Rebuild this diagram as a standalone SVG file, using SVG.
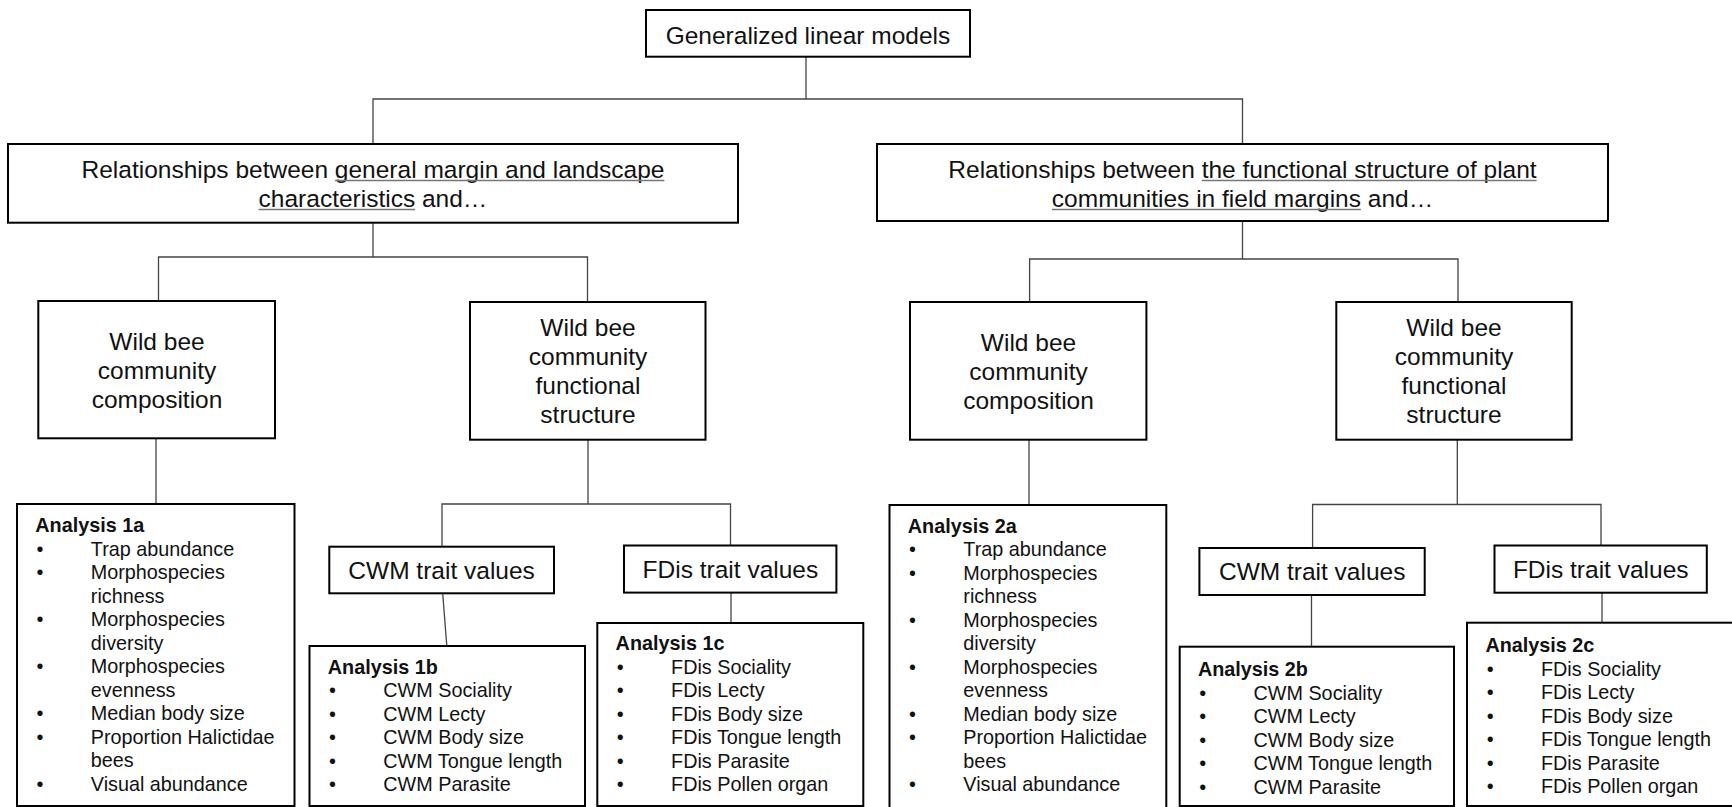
<svg xmlns="http://www.w3.org/2000/svg" width="1732" height="807" viewBox="0 0 1732 807">
<style>
text{font-family:"Liberation Sans",Arial,sans-serif;fill:#111}
.big{font-size:24.5px;text-anchor:middle}
.sm{font-size:19.8px}
.b{font-weight:bold}
.box{fill:#fff;stroke:#000;stroke-width:2}
.ul{stroke:#777;stroke-width:1.5}
#connectors line,#connectors polyline{stroke:#444;stroke-width:1.3;fill:none}
</style>
<rect width="1732" height="807" fill="#fff"/>
<g id="connectors">
<line x1="806" y1="57" x2="806" y2="99"/>
<polyline points="373,144 373,99 1242.5,99 1242.5,144"/>
<line x1="373" y1="223" x2="373" y2="257"/>
<polyline points="158.5,301 158.5,257 587.5,257 587.5,302"/>
<line x1="1242.5" y1="221" x2="1242.5" y2="259"/>
<polyline points="1029.6,302 1029.6,259 1458,259 1458,302"/>
<line x1="156" y1="438" x2="156" y2="504"/>
<line x1="588" y1="440" x2="588" y2="504"/>
<polyline points="442,546.7 442,504 730.5,504 730.5,545.5"/>
<line x1="442.7" y1="593.3" x2="446.8" y2="646"/>
<line x1="731" y1="592.6" x2="731" y2="623"/>
<line x1="1029" y1="440" x2="1029" y2="505"/>
<line x1="1457.3" y1="440" x2="1457.3" y2="504.5"/>
<polyline points="1312.6,548 1312.6,504.5 1601,504.5 1601,545.5"/>
<line x1="1311.5" y1="595" x2="1311.5" y2="646.7"/>
<line x1="1602" y1="592.7" x2="1602" y2="622.7"/>
</g>
<g id="n-glm">
<rect class="box" x="646" y="10" width="324" height="46.7"/>
<text class="big" x="808" y="44.3">Generalized linear models</text>
</g>
<g id="n-rel-left">
<rect class="box" x="8" y="144" width="730" height="78.7"/>
<text class="big" x="373" y="177.5">Relationships between general margin and landscape</text>
<text class="big" x="373" y="206.5">characteristics and…</text>
<line class="ul" x1="334.9" y1="180.5" x2="664.4" y2="180.5"/>
<line class="ul" x1="258.6" y1="209.5" x2="415.2" y2="209.5"/>
</g>
<g id="n-rel-right">
<rect class="box" x="877" y="144" width="731" height="77"/>
<text class="big" x="1242.5" y="177.5">Relationships between the functional structure of plant</text>
<text class="big" x="1242.5" y="206.5">communities in field margins and…</text>
<line class="ul" x1="1201.7" y1="180.5" x2="1536.6" y2="180.5"/>
<line class="ul" x1="1051.9" y1="209.5" x2="1360.9" y2="209.5"/>
</g>
<g id="n-comp1">
<rect class="box" x="38.3" y="301" width="236.7" height="137.3"/>
<text class="big" x="157" y="350">Wild bee</text>
<text class="big" x="157" y="379">community</text>
<text class="big" x="157" y="408">composition</text>
</g>
<g id="n-func1">
<rect class="box" x="470" y="302" width="235.5" height="137.7"/>
<text class="big" x="588" y="335.5">Wild bee</text>
<text class="big" x="588" y="364.5">community</text>
<text class="big" x="588" y="393.5">functional</text>
<text class="big" x="588" y="422.5">structure</text>
</g>
<g id="n-comp2">
<rect class="box" x="910" y="302" width="236.4" height="137.7"/>
<text class="big" x="1028.5" y="351">Wild bee</text>
<text class="big" x="1028.5" y="380">community</text>
<text class="big" x="1028.5" y="409">composition</text>
</g>
<g id="n-func2">
<rect class="box" x="1336.3" y="302" width="235.4" height="137.7"/>
<text class="big" x="1454" y="335.5">Wild bee</text>
<text class="big" x="1454" y="364.5">community</text>
<text class="big" x="1454" y="393.5">functional</text>
<text class="big" x="1454" y="422.5">structure</text>
</g>
<g id="n-cwm1">
<rect class="box" x="329.3" y="546.7" width="224.7" height="46.6"/>
<text class="big" x="441.6" y="579">CWM trait values</text>
</g>
<g id="n-fdis1">
<rect class="box" x="624" y="545.5" width="212.4" height="47.1"/>
<text class="big" x="730.4" y="578">FDis trait values</text>
</g>
<g id="n-cwm2">
<rect class="box" x="1199.4" y="548" width="225.3" height="47"/>
<text class="big" x="1312.2" y="580.3">CWM trait values</text>
</g>
<g id="n-fdis2">
<rect class="box" x="1494.5" y="545.5" width="212.3" height="47.2"/>
<text class="big" x="1600.7" y="578">FDis trait values</text>
</g>
<g id="n-a1a">
<rect class="box" x="17" y="504" width="277.5" height="302"/>
<text class="sm b" x="35.3" y="532">Analysis 1a</text>
<text class="sm">
<tspan x="36.5" y="555.5">•</tspan><tspan x="90.8" y="555.5">Trap abundance</tspan>
<tspan x="36.5" y="579">•</tspan><tspan x="90.8" y="579">Morphospecies</tspan>
<tspan x="90.8" y="602.5">richness</tspan>
<tspan x="36.5" y="626">•</tspan><tspan x="90.8" y="626">Morphospecies</tspan>
<tspan x="90.8" y="649.5">diversity</tspan>
<tspan x="36.5" y="673">•</tspan><tspan x="90.8" y="673">Morphospecies</tspan>
<tspan x="90.8" y="696.5">evenness</tspan>
<tspan x="36.5" y="720">•</tspan><tspan x="90.8" y="720">Median body size</tspan>
<tspan x="36.5" y="743.5">•</tspan><tspan x="90.8" y="743.5">Proportion Halictidae</tspan>
<tspan x="90.8" y="767">bees</tspan>
<tspan x="36.5" y="790.5">•</tspan><tspan x="90.8" y="790.5">Visual abundance</tspan>
</text>
</g>
<g id="n-a1b">
<rect class="box" x="309.5" y="646" width="275.5" height="160"/>
<text class="sm b" x="327.8" y="673.5">Analysis 1b</text>
<text class="sm">
<tspan x="329" y="697">•</tspan><tspan x="383.3" y="697">CWM Sociality</tspan>
<tspan x="329" y="720.5">•</tspan><tspan x="383.3" y="720.5">CWM Lecty</tspan>
<tspan x="329" y="744">•</tspan><tspan x="383.3" y="744">CWM Body size</tspan>
<tspan x="329" y="767.5">•</tspan><tspan x="383.3" y="767.5">CWM Tongue length</tspan>
<tspan x="329" y="791">•</tspan><tspan x="383.3" y="791">CWM Parasite</tspan>
</text>
</g>
<g id="n-a1c">
<rect class="box" x="597.3" y="623" width="266" height="183"/>
<text class="sm b" x="615.6" y="650">Analysis 1c</text>
<text class="sm">
<tspan x="616.8" y="673.5">•</tspan><tspan x="671.1" y="673.5">FDis Sociality</tspan>
<tspan x="616.8" y="697">•</tspan><tspan x="671.1" y="697">FDis Lecty</tspan>
<tspan x="616.8" y="720.5">•</tspan><tspan x="671.1" y="720.5">FDis Body size</tspan>
<tspan x="616.8" y="744">•</tspan><tspan x="671.1" y="744">FDis Tongue length</tspan>
<tspan x="616.8" y="767.5">•</tspan><tspan x="671.1" y="767.5">FDis Parasite</tspan>
<tspan x="616.8" y="791">•</tspan><tspan x="671.1" y="791">FDis Pollen organ</tspan>
</text>
</g>
<g id="n-a2a">
<rect class="box" x="889.5" y="505" width="276.8" height="306"/>
<text class="sm b" x="907.8" y="532.5">Analysis 2a</text>
<text class="sm">
<tspan x="909" y="556">•</tspan><tspan x="963.3" y="556">Trap abundance</tspan>
<tspan x="909" y="579.5">•</tspan><tspan x="963.3" y="579.5">Morphospecies</tspan>
<tspan x="963.3" y="603">richness</tspan>
<tspan x="909" y="626.5">•</tspan><tspan x="963.3" y="626.5">Morphospecies</tspan>
<tspan x="963.3" y="650">diversity</tspan>
<tspan x="909" y="673.5">•</tspan><tspan x="963.3" y="673.5">Morphospecies</tspan>
<tspan x="963.3" y="697">evenness</tspan>
<tspan x="909" y="720.5">•</tspan><tspan x="963.3" y="720.5">Median body size</tspan>
<tspan x="909" y="744">•</tspan><tspan x="963.3" y="744">Proportion Halictidae</tspan>
<tspan x="963.3" y="767.5">bees</tspan>
<tspan x="909" y="791">•</tspan><tspan x="963.3" y="791">Visual abundance</tspan>
</text>
</g>
<g id="n-a2b">
<rect class="box" x="1179.7" y="646.7" width="274.3" height="159.3"/>
<text class="sm b" x="1198" y="676">Analysis 2b</text>
<text class="sm">
<tspan x="1199.2" y="699.5">•</tspan><tspan x="1253.5" y="699.5">CWM Sociality</tspan>
<tspan x="1199.2" y="723">•</tspan><tspan x="1253.5" y="723">CWM Lecty</tspan>
<tspan x="1199.2" y="746.5">•</tspan><tspan x="1253.5" y="746.5">CWM Body size</tspan>
<tspan x="1199.2" y="770">•</tspan><tspan x="1253.5" y="770">CWM Tongue length</tspan>
<tspan x="1199.2" y="793.5">•</tspan><tspan x="1253.5" y="793.5">CWM Parasite</tspan>
</text>
</g>
<g id="n-a2c">
<rect class="box" x="1467" y="622.7" width="272" height="183.3"/>
<text class="sm b" x="1485.5" y="652">Analysis 2c</text>
<text class="sm">
<tspan x="1486.7" y="675.5">•</tspan><tspan x="1541" y="675.5">FDis Sociality</tspan>
<tspan x="1486.7" y="699">•</tspan><tspan x="1541" y="699">FDis Lecty</tspan>
<tspan x="1486.7" y="722.5">•</tspan><tspan x="1541" y="722.5">FDis Body size</tspan>
<tspan x="1486.7" y="746">•</tspan><tspan x="1541" y="746">FDis Tongue length</tspan>
<tspan x="1486.7" y="769.5">•</tspan><tspan x="1541" y="769.5">FDis Parasite</tspan>
<tspan x="1486.7" y="793">•</tspan><tspan x="1541" y="793">FDis Pollen organ</tspan>
</text>
</g>
</svg>
